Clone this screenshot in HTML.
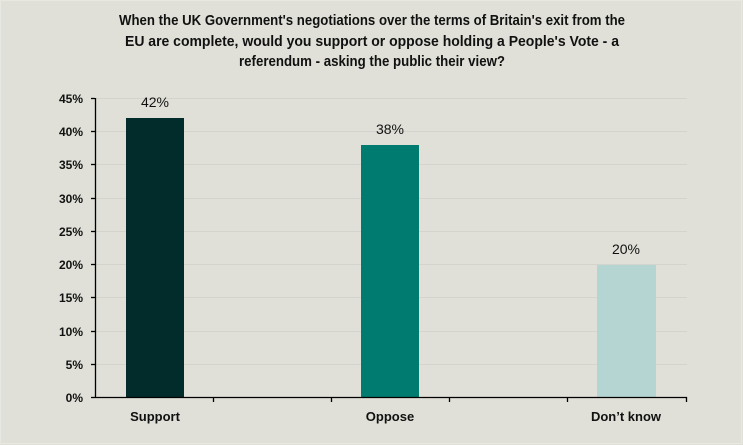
<!DOCTYPE html>
<html><head><meta charset="utf-8"><style>
html,body{margin:0;padding:0;background:#e0e0d8;}
svg{display:block;}
</style></head><body>
<svg width="743" height="445" viewBox="0 0 743 445" xmlns="http://www.w3.org/2000/svg">
<rect x="0" y="0" width="743" height="445" fill="#e0e0d8"/>
<rect x="0.5" y="0.5" width="741" height="443" fill="none" stroke="#e8e8e2" stroke-width="1"/>
<g font-family="Liberation Sans, sans-serif" font-weight="bold" font-size="15" fill="#111" text-anchor="middle">
<text x="372" y="25" textLength="506" lengthAdjust="spacingAndGlyphs">When the UK Government's negotiations over the terms of Britain's exit from the</text>
<text x="372" y="46" textLength="494" lengthAdjust="spacingAndGlyphs">EU are complete, would you support or oppose holding a People's Vote - a</text>
<text x="372" y="66" textLength="266" lengthAdjust="spacingAndGlyphs">referendum - asking the public their view?</text>
</g>
<g stroke="#d4d4ce" stroke-width="1">
<line x1="96" y1="98.5" x2="687" y2="98.5"/>
<line x1="96" y1="131.5" x2="687" y2="131.5"/>
<line x1="96" y1="164.5" x2="687" y2="164.5"/>
<line x1="96" y1="198.5" x2="687" y2="198.5"/>
<line x1="96" y1="231.5" x2="687" y2="231.5"/>
<line x1="96" y1="264.5" x2="687" y2="264.5"/>
<line x1="96" y1="297.5" x2="687" y2="297.5"/>
<line x1="96" y1="331.5" x2="687" y2="331.5"/>
<line x1="96" y1="364.5" x2="687" y2="364.5"/>
</g>
<rect x="126" y="118" width="58" height="279" fill="#022b2b"/>
<rect x="361" y="145" width="58" height="252" fill="#007b6f"/>
<rect x="597" y="265" width="59" height="132" fill="#b5d5d2"/>
<g stroke="#000" stroke-width="1.3" fill="none">
<line x1="95.5" y1="98" x2="95.5" y2="397"/>
<line x1="95" y1="397.5" x2="687" y2="397.5"/>
<line x1="91" y1="98.5" x2="95" y2="98.5"/>
<line x1="91" y1="131.5" x2="95" y2="131.5"/>
<line x1="91" y1="164.5" x2="95" y2="164.5"/>
<line x1="91" y1="198.5" x2="95" y2="198.5"/>
<line x1="91" y1="231.5" x2="95" y2="231.5"/>
<line x1="91" y1="264.5" x2="95" y2="264.5"/>
<line x1="91" y1="297.5" x2="95" y2="297.5"/>
<line x1="91" y1="331.5" x2="95" y2="331.5"/>
<line x1="91" y1="364.5" x2="95" y2="364.5"/>
<line x1="91" y1="397.5" x2="95" y2="397.5"/>
<line x1="213.5" y1="397" x2="213.5" y2="402"/>
<line x1="331.5" y1="397" x2="331.5" y2="402"/>
<line x1="449.5" y1="397" x2="449.5" y2="402"/>
<line x1="567.5" y1="397" x2="567.5" y2="402"/>
<line x1="686.5" y1="397" x2="686.5" y2="402"/>
</g>
<g font-family="Liberation Sans, sans-serif" font-weight="bold" font-size="12" fill="#111" text-anchor="end">
<text x="83" y="103">45%</text>
<text x="83" y="136">40%</text>
<text x="83" y="169">35%</text>
<text x="83" y="203">30%</text>
<text x="83" y="236">25%</text>
<text x="83" y="269">20%</text>
<text x="83" y="302">15%</text>
<text x="83" y="336">10%</text>
<text x="83" y="369">5%</text>
<text x="83" y="402">0%</text>
</g>
<g font-family="Liberation Sans, sans-serif" font-size="14" fill="#111" text-anchor="middle">
<text x="155" y="107">42%</text>
<text x="390" y="134">38%</text>
<text x="626" y="254">20%</text>
</g>
<g font-family="Liberation Sans, sans-serif" font-weight="bold" font-size="13" fill="#111" text-anchor="middle">
<text x="155" y="421">Support</text>
<text x="390" y="421">Oppose</text>
<text x="626" y="421">Don’t know</text>
</g>
</svg>
</body></html>
